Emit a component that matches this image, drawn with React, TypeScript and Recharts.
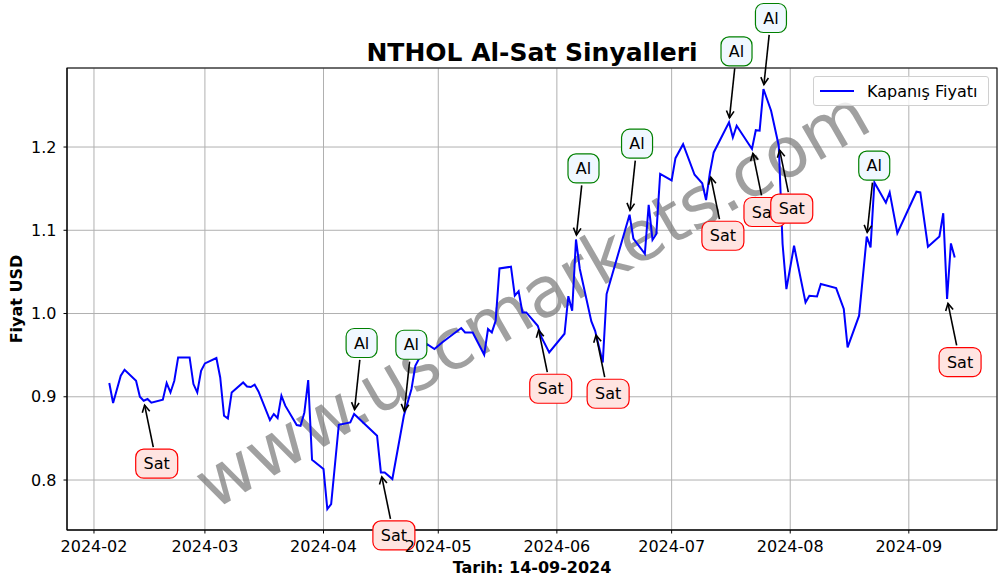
import {
  CartesianGrid,
  Customized,
  Legend,
  Line,
  LineChart,
  ReferenceDot,
  XAxis,
  YAxis,
} from "recharts";

// closing prices (vertices of the line)
const DATES = [
  "2024-02-05", "2024-02-06", "2024-02-08", "2024-02-09", "2024-02-12", "2024-02-13",
  "2024-02-14", "2024-02-15", "2024-02-16", "2024-02-19", "2024-02-20", "2024-02-21",
  "2024-02-22", "2024-02-23", "2024-02-26", "2024-02-27", "2024-02-28", "2024-02-29",
  "2024-03-01", "2024-03-04", "2024-03-05", "2024-03-06", "2024-03-07", "2024-03-08",
  "2024-03-11", "2024-03-12", "2024-03-13", "2024-03-14", "2024-03-15", "2024-03-18",
  "2024-03-19", "2024-03-20", "2024-03-21", "2024-03-22", "2024-03-25", "2024-03-26",
  "2024-03-27", "2024-03-28", "2024-03-29", "2024-04-01", "2024-04-02", "2024-04-03",
  "2024-04-05", "2024-04-08", "2024-04-09", "2024-04-15", "2024-04-16", "2024-04-17",
  "2024-04-19", "2024-04-22", "2024-04-24", "2024-04-25", "2024-04-28", "2024-04-30",
  "2024-05-02", "2024-05-07", "2024-05-08", "2024-05-10", "2024-05-13", "2024-05-14",
  "2024-05-15", "2024-05-16", "2024-05-17", "2024-05-20", "2024-05-21", "2024-05-22",
  "2024-05-23", "2024-05-24", "2024-05-27", "2024-05-28", "2024-05-30", "2024-06-03",
  "2024-06-04", "2024-06-05", "2024-06-06", "2024-06-07", "2024-06-10", "2024-06-11",
  "2024-06-13", "2024-06-14", "2024-06-20", "2024-06-21", "2024-06-24", "2024-06-25",
  "2024-06-26", "2024-06-27", "2024-06-28", "2024-07-01", "2024-07-02", "2024-07-04",
  "2024-07-07", "2024-07-09", "2024-07-10", "2024-07-11", "2024-07-12", "2024-07-16",
  "2024-07-17", "2024-07-18", "2024-07-22", "2024-07-23", "2024-07-24", "2024-07-25",
  "2024-07-27", "2024-07-29", "2024-07-30", "2024-07-31", "2024-08-02", "2024-08-05",
  "2024-08-06", "2024-08-08", "2024-08-09", "2024-08-13", "2024-08-15", "2024-08-16",
  "2024-08-19", "2024-08-21", "2024-08-22", "2024-08-23", "2024-08-26", "2024-08-27",
  "2024-08-29", "2024-09-03", "2024-09-04", "2024-09-06", "2024-09-09", "2024-09-10",
  "2024-09-11", "2024-09-12", "2024-09-13",
];

const CLOSE = [
  0.9165, 0.8925, 0.9253, 0.9325, 0.9193, 0.9001,
  0.8953, 0.8973, 0.8929, 0.8965, 0.9165, 0.9052,
  0.9193, 0.9473, 0.9473, 0.9153, 0.9052, 0.9313,
  0.9401, 0.9465, 0.9232, 0.8772, 0.874, 0.9052,
  0.9172, 0.9124, 0.9117, 0.9145, 0.9064, 0.8721,
  0.8793, 0.8745, 0.9013, 0.8893, 0.8661, 0.8652,
  0.8812, 0.9201, 0.8244, 0.8132, 0.7652, 0.7712,
  0.8664, 0.8692, 0.8793, 0.8532, 0.8091, 0.8091,
  0.8012, 0.8772, 0.9093, 0.9373, 0.9634, 0.9574,
  0.9653, 0.9826, 0.9773, 0.9773, 0.9505, 0.9814,
  0.9773, 0.9914, 1.0542, 1.0562, 1.0214, 1.0268,
  1.0013, 1.0013, 0.9853, 0.9713, 0.9533, 0.9757,
  1.0208, 1.0034, 1.089, 1.0535, 0.9908, 0.9793,
  0.9413, 1.0234, 1.1187, 1.0901, 1.0718, 1.1305,
  1.0884, 1.0955, 1.1676, 1.1599, 1.1866, 1.2034,
  1.1667, 1.1565, 1.1363, 1.1691, 1.1935, 1.2296,
  1.2115, 1.2256, 1.1976, 1.2202, 1.2196, 1.2697,
  1.2436, 1.2016, 1.0835, 1.0294, 1.0814, 1.0133,
  1.0214, 1.0205, 1.0354, 1.0306, 1.0054, 0.9593,
  0.9974, 1.0923, 1.0794, 1.1575, 1.1331, 1.1455,
  1.0965, 1.1463, 1.1455, 1.0802, 1.0926, 1.1205,
  1.0174, 1.0842, 1.0674,
];

const SIGNAL_DATES = [
  "2024-02-14", "2024-04-09", "2024-04-16", "2024-04-22", "2024-05-27",
  "2024-06-06", "2024-06-11", "2024-06-20", "2024-07-11", "2024-07-16",
  "2024-07-22", "2024-07-25", "2024-07-29", "2024-08-21", "2024-09-11",
];
const SIGNAL_TYPES = [
  "Sat", "Al", "Sat", "Al", "Sat",
  "Al", "Sat", "Al", "Sat", "Al",
  "Sat", "Al", "Sat", "Al", "Sat",
];

const MONTH_TICKS = [
  "2024-02-01", "2024-03-01", "2024-04-01", "2024-05-01",
  "2024-06-01", "2024-07-01", "2024-08-01", "2024-09-01",
];
const PRICE_TICKS = [0.8, 0.9, 1.0, 1.1, 1.2];

const FONT = "DejaVu Sans";
const W = 1006;
const H = 585;
// plot area
const PL = 67;
const PT = 68;
const PW = 930;
const PH = 462;

// day number counted from 2024-01-01
const toDay = (s: string) => {
  const [y, m, d] = s.split("-").map(Number);
  return (Date.UTC(y, m - 1, d) - Date.UTC(2024, 0, 1)) / 86400000;
};

const data = DATES.map((d, i) => ({ day: toDay(d), close: CLOSE[i] }));
const monthTicks = MONTH_TICKS.map(toDay);
const monthLabel = (v: number) => {
  const i = monthTicks.indexOf(v);
  return i >= 0 ? MONTH_TICKS[i].slice(0, 7) : "";
};

const signals = SIGNAL_DATES.map((d, i) => ({
  day: toDay(d),
  close: CLOSE[DATES.indexOf(d)],
  kind: SIGNAL_TYPES[i],
}));

// matplotlib-ish autoscale with 5% margins
const dMin = data[0].day;
const dMax = data[data.length - 1].day;
const dPad = (dMax - dMin) * 0.05;
const vMin = Math.min(...CLOSE);
const vMax = Math.max(...CLOSE);
const vPad = (vMax - vMin) * 0.05;

function SignalMark(props: any) {
  const { cx, cy, kind } = props;
  if (cx == null || cy == null) return null;
  const buy = kind === "Al";
  const bx = cx + (buy ? 7.5 : 13);
  const by = cy + (buy ? -71 : 63);
  const w = buy ? 31 : 42;
  const h = 29;
  const dx = cx - bx;
  const dy = cy - by;
  const len = Math.hypot(dx, dy);
  const ux = dx / len;
  const uy = dy / len;
  const sx = bx + ux * 17;
  const sy = by + uy * 17;
  const tx = cx - ux * 4.5;
  const ty = cy - uy * 4.5;
  const hl = 7;
  const hw = 3.8;
  const px = -uy;
  const py = ux;
  const head = `M${tx - ux * hl + px * hw},${ty - uy * hl + py * hw} L${tx},${ty} L${
    tx - ux * hl - px * hw
  },${ty - uy * hl - py * hw}`;
  return (
    <g>
      <line x1={sx} y1={sy} x2={tx} y2={ty} stroke="#000" strokeWidth={1.6} />
      <path d={head} fill="none" stroke="#000" strokeWidth={1.6} />
      <rect
        x={bx - w / 2}
        y={by - h / 2}
        width={w}
        height={h}
        rx={8}
        ry={8}
        fill={buy ? "#f0f8ff" : "#ffe4e1"}
        stroke={buy ? "#008000" : "#ff0000"}
        strokeWidth={1.2}
      />
      <text
        x={bx}
        y={by}
        textAnchor="middle"
        dominantBaseline="central"
        fontFamily={FONT}
        fontSize={16}
        fill="#000"
      >
        {kind}
      </text>
    </g>
  );
}

function Watermark() {
  const cx = PL + PW / 2;
  const cy = PT + PH / 2;
  return (
    <text
      x={cx}
      y={cy}
      transform={`rotate(-30 ${cx} ${cy})`}
      textAnchor="middle"
      dominantBaseline="central"
      fontFamily={FONT}
      fontSize={70}
      fill="#808080"
      fillOpacity={0.75}
    >
      www.uscmarkets.com
    </text>
  );
}

function Decorations() {
  return (
    <g fontFamily={FONT} fill="#000">
      <rect x={PL} y={PT} width={PW} height={PH} fill="none" stroke="#000" strokeWidth={1} />
      <text x={PL + PW / 2} y={61} textAnchor="middle" fontSize={25} fontWeight="bold">
        NTHOL Al-Sat Sinyalleri
      </text>
      <text x={PL + PW / 2} y={573} textAnchor="middle" fontSize={16} fontWeight="bold">
        Tarih: 14-09-2024
      </text>
      <text
        x={22}
        y={PT + PH / 2}
        transform={`rotate(-90 22 ${PT + PH / 2})`}
        textAnchor="middle"
        fontSize={16}
        fontWeight="bold"
      >
        Fiyat USD
      </text>
    </g>
  );
}

function LegendBox() {
  return (
    <div
      style={{
        boxSizing: "border-box",
        width: 176,
        height: 30,
        border: "1px solid #d0d0d0",
        borderRadius: 3,
        background: "rgba(255,255,255,0.8)",
        display: "flex",
        alignItems: "center",
        fontFamily: FONT,
        fontSize: 16,
        color: "#000",
      }}
    >
      <div style={{ width: 34, height: 2, background: "#0000ff", marginLeft: 6, marginRight: 13 }} />
      <span>Kapanış Fiyatı</span>
    </div>
  );
}

export default function App() {
  return (
    <div style={{ position: "absolute", left: 0, top: 0, width: W, height: H, background: "#fff" }}>
      <LineChart
        width={W}
        height={H}
        data={data}
        margin={{ top: PT, right: W - PL - PW, bottom: 25, left: 7 }}
      >
        <CartesianGrid stroke="#b0b0b0" strokeWidth={1} />
        <Customized component={Watermark} />
        <XAxis
          dataKey="day"
          type="number"
          domain={[dMin - dPad, dMax + dPad]}
          ticks={monthTicks}
          tickFormatter={monthLabel}
          allowDataOverflow
          height={30}
          stroke="#000"
          tickSize={3.5}
          tickMargin={7}
          tick={{ fontSize: 16, fill: "#000", fontFamily: FONT }}
        />
        <YAxis
          type="number"
          domain={[vMin - vPad, vMax + vPad]}
          ticks={PRICE_TICKS}
          tickFormatter={(v: number) => v.toFixed(1)}
          allowDataOverflow
          width={60}
          stroke="#000"
          tickSize={3.5}
          tickMargin={7}
          tick={{ fontSize: 16, fill: "#000", fontFamily: FONT }}
        />
        <Legend
          verticalAlign="middle"
          align="center"
          layout="horizontal"
          content={() => <LegendBox />}
          wrapperStyle={{ left: 813, top: 76, width: 176, height: 30 }}
        />
        <Line
          type="linear"
          dataKey="close"
          name="Kapanış Fiyatı"
          stroke="#0000ff"
          strokeWidth={2}
          dot={false}
          isAnimationActive={false}
        />
        {signals.map((s, i) => (
          <ReferenceDot
            key={i}
            x={s.day}
            y={s.close}
            ifOverflow="visible"
            shape={(p: any) => <SignalMark {...p} kind={s.kind} />}
          />
        ))}
        <Customized component={Decorations} />
      </LineChart>
    </div>
  );
}
